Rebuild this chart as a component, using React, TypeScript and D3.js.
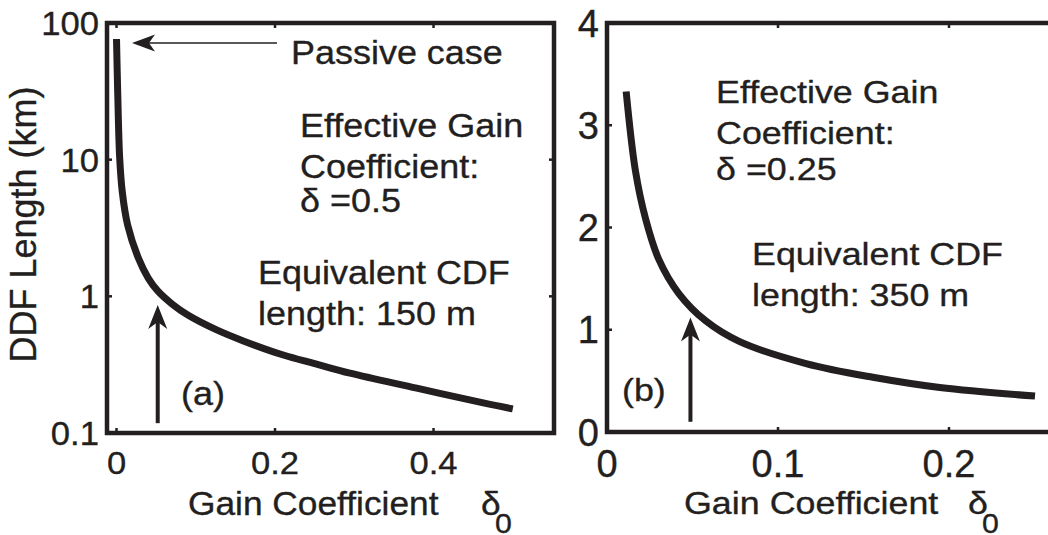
import React from 'react';
import * as d3 from 'd3';

// Panel (a): DDF length (km, log) vs gain coefficient delta0, delta = 0.5
const deltaA = [0, 0.0015, 0.004, 0.0073, 0.014, 0.0275, 0.04, 0.052, 0.07, 0.09, 0.1264, 0.16, 0.2105, 0.25, 0.2946, 0.3788, 0.4628, 0.5];
const lengthA = [76.4, 31.3, 10.3, 5.8, 3.33, 1.91, 1.36, 1.095, 0.88, 0.73, 0.568, 0.472, 0.372, 0.322, 0.274, 0.213, 0.166, 0.15];
// Panel (b): DDF length (km, linear) vs gain coefficient delta0, delta = 0.25
const deltaB = [0.0112, 0.0166, 0.0225, 0.0303, 0.042, 0.0577, 0.0773, 0.1164, 0.1555, 0.1946, 0.2503];
const lengthB = [3.33, 2.557, 2.089, 1.688, 1.354, 1.087, 0.886, 0.669, 0.535, 0.435, 0.351];

const xTicksA = [0, 0.2, 0.4];
const xTickLabelsA = ['0', '0.2', '0.4'];
const yTicksA = [0.1, 1, 10, 100];
const yTickLabelsA = ['0.1', '1', '10', '100'];
const xTicksB = [0, 0.1, 0.2];
const xTickLabelsB = ['0', '0.1', '0.2'];
const yTicksB = [0, 1, 2, 3, 4];
const yTickLabelsB = ['0', '1', '2', '3', '4'];

const arrowA = { x: 0.052, y0: 0.118, y1: 0.865 };
const arrowB = { x: 0.0488, y0: 0.1, y1: 1.12 };

const INK = '#231f20';
const FONT = '"Liberation Sans", Arial, Helvetica, sans-serif';

function T({ x, y, size, sx = 1, anchor = 'start', dy, children }: any) {
  return (
    <text
      transform={`translate(${x},${y}) scale(${sx},1)`}
      fontSize={size}
      fontFamily={FONT}
      textAnchor={anchor}
      dy={dy}
      fill={INK}
      stroke={INK}
      strokeWidth={0.35}
    >
      {children}
    </text>
  );
}

function head(tx: number, ty: number, ux: number, uy: number, L: number, W: number, N: number) {
  const px = -uy, py = ux;
  const pts = [
    [tx, ty],
    [tx - L * ux + W * px, ty - L * uy + W * py],
    [tx - N * ux, ty - N * uy],
    [tx - L * ux - W * px, ty - L * uy - W * py],
  ];
  return 'M' + pts.map((p) => p.join(',')).join('L') + 'Z';
}

export default function App() {
  const xA = d3.scaleLinear().domain([-0.012, 0.552]).range([107, 554]);
  const yA = d3.scaleLog().domain([0.1, 100]).range([433, 23]);
  const xB = d3.scaleLinear().domain([0, 0.26]).range([607, 1051.6]);
  const yB = d3.scaleLinear().domain([0, 4]).range([432, 23]);

  const lineA = d3
    .line<number>()
    .x((d, i) => xA(deltaA[i]))
    .y((d) => yA(d))
    .curve(d3.curveCatmullRom.alpha(0.5))(lengthA) as string;
  const lineB = d3
    .line<number>()
    .x((d, i) => xB(deltaB[i]))
    .y((d) => yB(d))
    .curve(d3.curveCatmullRom.alpha(0.5))(lengthB) as string;

  const fw = 4.5;
  const tk = 5;

  const pTipX = 132, pY = 43, pEnd = 277;

  const axA = xA(arrowA.x);
  const axB = xB(arrowB.x);

  return (
    <svg width={1048} height={535} style={{ position: 'absolute', left: 0, top: 0, background: '#fff' }}>
      <rect x={0} y={0} width={1048} height={535} fill="#fff" />

      {/* Panel (a) frame */}
      <rect x={xA.range()[0]} y={yA.range()[1]} width={xA.range()[1] - xA.range()[0]} height={yA.range()[0] - yA.range()[1]}
        fill="none" stroke={INK} strokeWidth={fw} />
      {xTicksA.map((t) => (
        <g key={'xa' + t}>
          <line x1={xA(t)} x2={xA(t)} y1={yA.range()[0]} y2={yA.range()[0] - tk} stroke={INK} strokeWidth={2.5} />
          <line x1={xA(t)} x2={xA(t)} y1={yA.range()[1]} y2={yA.range()[1] + tk} stroke={INK} strokeWidth={2.5} />
        </g>
      ))}
      {yTicksA.map((t) => (
        <g key={'ya' + t}>
          <line x1={xA.range()[0]} x2={xA.range()[0] + tk} y1={yA(t)} y2={yA(t)} stroke={INK} strokeWidth={2.5} />
          <line x1={xA.range()[1]} x2={xA.range()[1] - tk} y1={yA(t)} y2={yA(t)} stroke={INK} strokeWidth={2.5} />
        </g>
      ))}
      {xTicksA.map((t, i) => (
        <T key={'xla' + t} x={xA(t)} y={474} size={32} sx={1.08} anchor="middle">{xTickLabelsA[i]}</T>
      ))}
      {yTicksA.map((t, i) => (
        <T key={'yla' + t} x={99} y={yA(t)} size={33} sx={1.05} anchor="end" dy="0.36em">{yTickLabelsA[i]}</T>
      ))}

      <path d={lineA} fill="none" stroke={INK} strokeWidth={7} strokeLinecap="butt" strokeLinejoin="round" />

      {/* passive case arrow */}
      <line x1={pEnd} x2={pTipX + 17} y1={pY} y2={pY} stroke={INK} strokeWidth={1.5} />
      <path d={head(pTipX, pY, -1, 0, 23, 8.5, 17)} fill={INK} />
      {/* vertical arrow (a) */}
      <line x1={axA} x2={axA} y1={yA(arrowA.y0)} y2={yA(arrowA.y1) + 16} stroke={INK} strokeWidth={4} />
      <path d={head(axA, yA(arrowA.y1), 0, -1, 24, 9.5, 17)} fill={INK} />

      <T x={291} y={64} size={33} sx={1.09}>Passive case</T>
      <T x={300} y={137} size={33} sx={1.09}>Effective Gain</T>
      <T x={300} y={178} size={33} sx={1.09}>Coefficient:</T>
      <T x={300} y={212} size={33} sx={1.09}>δ =0.5</T>
      <T x={258} y={284} size={33} sx={1.09}>Equivalent CDF</T>
      <T x={258} y={325} size={33} sx={1.09}>length: 150 m</T>
      <T x={181} y={405} size={33} sx={1.09}>(a)</T>

      <T x={188} y={515} size={33} sx={1.07}>Gain Coefficient</T>
      <T x={481} y={515} size={33} sx={1.07}>δ</T>
      <T x={495} y={533} size={28} sx={1.08}>0</T>

      <text transform="translate(36,224.5) rotate(-90)" fontSize={36} fontFamily={FONT} textAnchor="middle" fill={INK}
        stroke={INK} strokeWidth={0.35}>
        DDF Length (km)
      </text>

      {/* Panel (b) frame */}
      <rect x={xB.range()[0]} y={yB.range()[1]} width={xB.range()[1] - xB.range()[0]} height={yB.range()[0] - yB.range()[1]}
        fill="none" stroke={INK} strokeWidth={fw} />
      {xTicksB.map((t) => (
        <g key={'xb' + t}>
          <line x1={xB(t)} x2={xB(t)} y1={yB.range()[0]} y2={yB.range()[0] - tk} stroke={INK} strokeWidth={2.5} />
          <line x1={xB(t)} x2={xB(t)} y1={yB.range()[1]} y2={yB.range()[1] + tk} stroke={INK} strokeWidth={2.5} />
        </g>
      ))}
      {yTicksB.map((t) => (
        <g key={'yb' + t}>
          <line x1={xB.range()[0]} x2={xB.range()[0] + tk} y1={yB(t)} y2={yB(t)} stroke={INK} strokeWidth={2.5} />
        </g>
      ))}
      {xTicksB.map((t, i) => (
        <T key={'xlb' + t} x={xB(t)} y={477} size={38} anchor="middle">{xTickLabelsB[i]}</T>
      ))}
      {yTicksB.map((t, i) => (
        <T key={'ylb' + t} x={599} y={yB(t)} size={38} anchor="end" dy="0.36em">{yTickLabelsB[i]}</T>
      ))}

      <path d={lineB} fill="none" stroke={INK} strokeWidth={7} strokeLinecap="butt" strokeLinejoin="round" />

      <line x1={axB} x2={axB} y1={yB(arrowB.y0)} y2={yB(arrowB.y1) + 16} stroke={INK} strokeWidth={4} />
      <path d={head(axB, yB(arrowB.y1), 0, -1, 24, 9.5, 17)} fill={INK} />

      <T x={716} y={103} size={32} sx={1.12}>Effective Gain</T>
      <T x={716} y={144} size={32} sx={1.12}>Coefficient:</T>
      <T x={716} y={180} size={32} sx={1.12}>δ =0.25</T>
      <T x={752} y={265} size={32} sx={1.12}>Equivalent CDF</T>
      <T x={752} y={306} size={32} sx={1.12}>length: 350 m</T>
      <T x={622} y={401} size={32} sx={1.12}>(b)</T>

      <T x={684} y={514} size={32} sx={1.12}>Gain Coefficient</T>
      <T x={968} y={514} size={32} sx={1.12}>δ</T>
      <T x={982} y={533} size={28} sx={1.08}>0</T>
    </svg>
  );
}
